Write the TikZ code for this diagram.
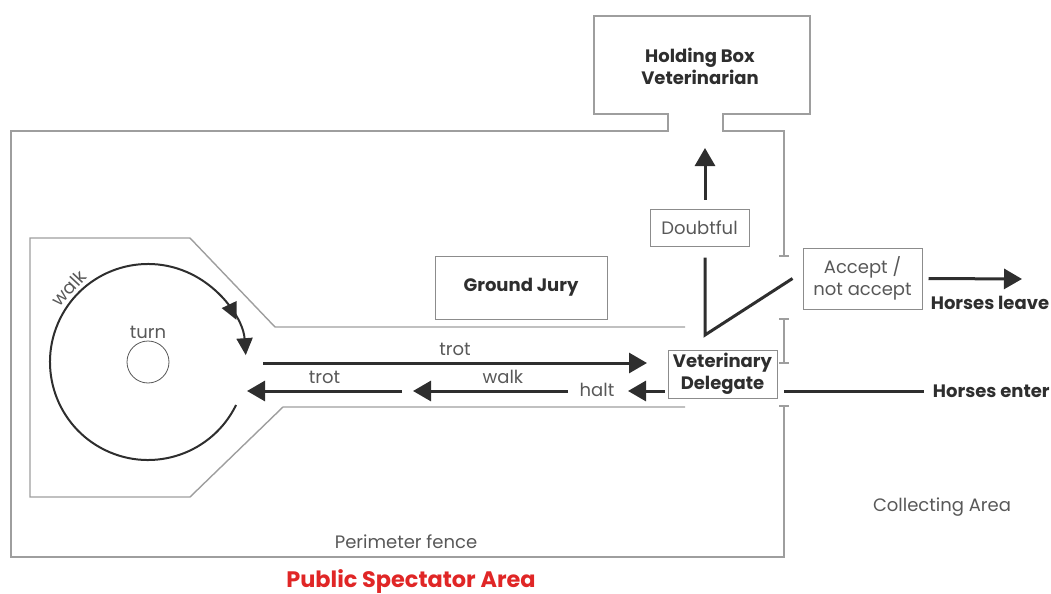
\documentclass[tikz,border=0pt]{standalone}
\usepackage{fontspec}
\setmainfont{Poppins}
\usepackage{tikz}
\usetikzlibrary{arrows.meta,decorations.markings}

\definecolor{fencegray}{gray}{0.62}
\definecolor{boxgray}{gray}{0.55}
\definecolor{inkgray}{gray}{0.18}
\definecolor{spectred}{RGB}{224,38,38}
\newcommand{\lblfont}{\fontsize{9}{11}\selectfont}

\tikzset{
  fence/.style={draw=fencegray, line width=0.7pt},
  lbl/.style={font=\lblfont, text=inkgray!80, inner sep=0pt, align=center},
  boldlbl/.style={font=\lblfont\bfseries, text=inkgray, inner sep=0pt, align=center},
  boxnode/.style={draw=boxgray, line width=0.5pt, inner sep=0pt, align=center},
  bigarrow/.style={draw=inkgray, line width=1.5pt, -{Triangle[length=9pt,width=10pt]}},
  thickline/.style={draw=inkgray, line width=1.5pt},
  walkarc/.style={draw=inkgray, line width=1pt, -{Triangle[length=8.5pt,width=8pt]},
    postaction={decorate},
    decoration={markings, mark=at position 0.935 with {\arrow{Triangle[length=8.5pt,width=8pt]}}}},
}

\begin{document}
\begin{tikzpicture}[x=0.5pt, y=-0.5pt]
\useasboundingbox (0,0) rectangle (1051,594);

% perimeter fence and holding box
\draw[fence] (784,406) -- (784,557) -- (11,557) -- (11,131) -- (668,131) -- (668,114) -- (594,114) -- (594,16) -- (810,16) -- (810,114) -- (723,114) -- (723,131) -- (784,131) -- (784,256);
\draw[fence] (784,319) -- (784,363);
\foreach \y in {256,319,363,406} \draw[fence] (779,\y) -- (789,\y);
\node[boldlbl] (holding) at (700,66) {Holding Box\\Veterinarian};

% pen and corridor
\draw[fence] (685,327) -- (275,327) -- (190,238) -- (30,238) -- (30,497) -- (190,497) -- (283,407) -- (685,407);

% turn
\coordinate (C) at (148,362);
\node[circle, draw=inkgray!80, line width=0.4pt, minimum size=21pt, inner sep=0pt] (turncirc) at (C) {};
\node[lbl] (turn) at (148,332) {turn};
\draw[walkarc] ([shift={(26:98)}]C) arc[start angle=26, end angle=356, radius=98];
\node[lbl, rotate=47, anchor=south] (walkcirc) at ([shift={(223:101)}]C) {walk};

% boxes
\node[boxnode, boldlbl, minimum width=86pt, minimum height=31.5pt] (jury) at (521,287.5) {Ground Jury};
\node[boxnode, lbl, minimum width=49.5pt, minimum height=18.5pt] (doubtful) at (699.5,227.5) {Doubtful};
\node[boxnode, lbl, minimum width=59.5pt, minimum height=30.5pt] (accept) at (862.5,278.5) {Accept /\\not accept};
\node[boxnode, boldlbl, minimum width=54.5pt, minimum height=24pt] (vetdel) at (722.5,374) {Veterinary\\Delegate};

% trot and walk
\coordinate (trotin) at (263,363);
\coordinate (trotout) at (647,363);
\draw[bigarrow] (trotin) -- node[lbl, above=3pt] {trot} (trotout);
\coordinate (haltend) at (628,391);
\node[lbl] (halt) at (597,390) {halt};
\draw[bigarrow] ([xshift=-1.5pt]vetdel.west |- haltend) -- (haltend);
\coordinate (walkstart) at (568,391);
\coordinate (walkend) at (413,391);
\draw[bigarrow] (walkstart) -- node[lbl, above=3pt, pos=0.42] {walk} (walkend);
\coordinate (trotback) at (402,391);
\coordinate (trotbackend) at (247,391);
\draw[bigarrow] (trotback) -- node[lbl, above=3pt] {trot} (trotbackend);

% decision
\coordinate (corner) at (705,335);
\coordinate (holdtip) at (705,148);
\draw[bigarrow] ([yshift=4.5pt]doubtful.north -| corner) -- (holdtip);
\draw[thickline] ([yshift=-5.5pt]doubtful.south -| corner) -- (corner) -- ([xshift=-5pt]accept.west);

% horses
\node[boldlbl] (leave) at (990,303) {Horses leave};
\coordinate (leavetip) at (1022,279);
\draw[bigarrow] ([xshift=3pt]accept.east) -- (leavetip);
\node[boldlbl, anchor=east] (enter) at (1050,391) {Horses enter};
\draw[thickline] (784,391) -- ([xshift=-4.5pt]enter.west);

% areas
\node[lbl] (fencelbl) at (406,542) {Perimeter fence};
\node[lbl] (collect) at (942,507) {Collecting Area};
\node[font=\fontsize{11.2}{13}\selectfont\bfseries, text=spectred, inner sep=0pt] (public) at (411,582) {Public Spectator Area};
\end{tikzpicture}
\end{document}
